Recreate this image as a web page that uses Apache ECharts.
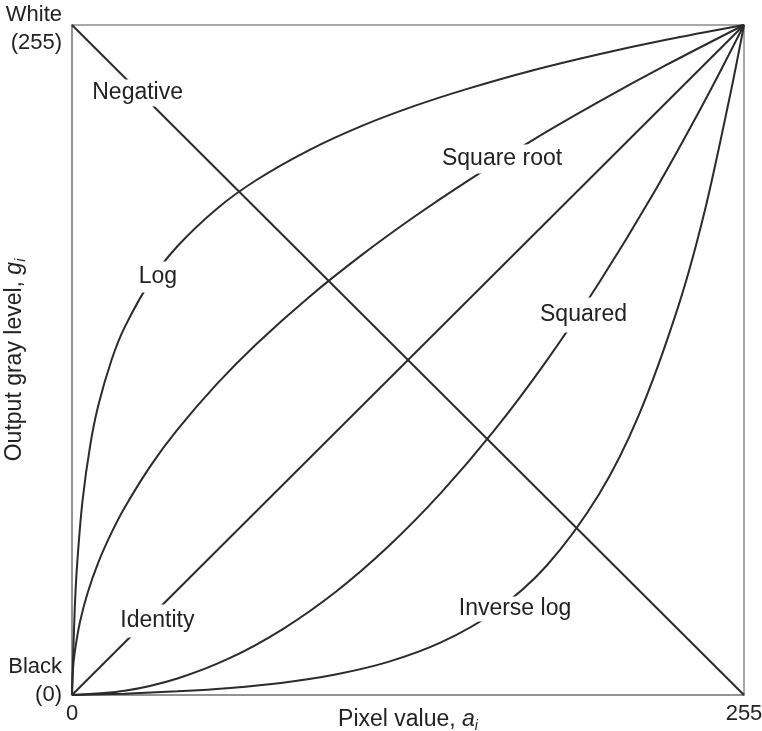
<!DOCTYPE html>
<html>
<head>
<meta charset="utf-8">
<title>Gray level transformations</title>
<script src="https://cdn.jsdelivr.net/npm/echarts@6/dist/echarts.min.js"></script>
<style>
  html, body { margin: 0; padding: 0; background: #fff; }
  #chart { width: 762px; height: 731px; }
</style>
</head>
<body>
<div id="chart"></div>
<script>
// curve points (pixel value -> output gray level)
const identityX = [0, 255];
const identityY = [0, 255];
const negativeX = [0, 255];
const negativeY = [255, 0];
const logX = [0, 1, 2, 4, 7, 10, 15, 20, 30, 40, 55, 70, 90, 110, 130, 150, 175, 200, 225, 255];
const logY = [0, 31.9, 50.5, 74.0, 95.6, 110.3, 127.5, 140.0, 157.9, 170.8, 185.1, 196.0, 207.4, 216.6, 224.2, 230.7, 237.8, 243.9, 249.3, 255];
const sqrtX = [0, 0.3, 1, 3, 6, 10, 15, 20, 30, 40, 55, 70, 90, 110, 130, 150, 175, 200, 225, 255];
const sqrtY = [0, 8.7, 16.0, 27.7, 39.1, 50.5, 61.8, 71.4, 87.5, 101.0, 118.4, 133.6, 151.5, 167.5, 182.1, 195.6, 211.3, 225.8, 239.5, 255];
const squaredX = [0, 20, 40, 60, 80, 100, 120, 140, 160, 180, 200, 220, 240, 255];
const squaredY = [0, 1.6, 6.3, 14.1, 25.1, 39.2, 56.5, 76.9, 100.4, 127.1, 156.9, 189.8, 225.9, 255];
const invLogX = [0, 20, 40, 60, 80, 100, 120, 140, 160, 180, 200, 215, 230, 240, 250, 255];
const invLogY = [0, 0.5, 1.4, 2.7, 4.7, 7.8, 12.6, 20.0, 31.4, 49.1, 76.4, 106.3, 147.7, 183.8, 229.6, 255];

// curve names and where their labels sit (data units)
const curveNames = ['Negative', 'Log', 'Square root', 'Squared', 'Inverse log', 'Identity'];
const labelX = [24.9, 32.6, 163.2, 194.1, 168.1, 32.4];
const labelY = [229.1, 159.1, 204.0, 144.6, 32.7, 28.2];

const xTicks = [0, 255];

const zip = (xs, ys) => xs.map((x, i) => [x, ys[i]]);

// white box around each label so the line looks cut
const labelPad = [2, 4, 3, 6, 1, 5];

const chart = echarts.init(document.getElementById('chart'));

const lineColor = '#2b2b2b';
const frameColor = '#8c8c8c';
const font = 'Liberation Sans, Arial, sans-serif';

const curve = (name, xs, ys) => ({
  name,
  type: 'line',
  data: zip(xs, ys),
  smooth: 0.3,
  symbol: 'none',
  silent: true,
  lineStyle: { color: lineColor, width: 2 },
  z: 2
});

// italic name with subscript
const nameRich = {
  it: { fontFamily: font, fontSize: 23, fontStyle: 'italic', color: '#222' },
  sub: { fontFamily: font, fontSize: 14, fontStyle: 'italic', color: '#222', padding: [13, 0, 0, 0] }
};

const option = {
  animation: false,
  backgroundColor: '#fff',
  grid: {
    left: 72,
    right: 18,
    top: 25,
    bottom: 36,
    outerBoundsMode: 'none',
    containLabel: false,
    show: true,
    borderColor: frameColor,
    borderWidth: 1.5
  },
  xAxis: {
    type: 'value',
    min: xTicks[0],
    max: xTicks[1],
    interval: 255,
    name: 'Pixel value, {it|a}{sub|i}',
    nameLocation: 'middle',
    nameGap: 11,
    nameMoveOverlap: false,
    nameTextStyle: {
      fontFamily: font,
      fontSize: 23,
      color: '#222',
      verticalAlign: 'top',
      rich: nameRich
    },
    axisLine: { show: true, lineStyle: { color: frameColor, width: 1.5 } },
    axisTick: { show: false },
    splitLine: { show: false },
    axisLabel: {
      margin: 8,
      fontFamily: font,
      fontSize: 22,
      color: '#222',
      showMinLabel: true,
      showMaxLabel: true
    }
  },
  yAxis: {
    type: 'value',
    min: 0,
    max: 255,
    interval: 255,
    name: 'Output gray level, {it|g}{sub|i}',
    nameLocation: 'middle',
    nameGap: 44,
    nameMoveOverlap: false,
    nameTextStyle: {
      fontFamily: font,
      fontSize: 23,
      color: '#222',
      rich: nameRich
    },
    axisLine: { show: true, lineStyle: { color: frameColor, width: 1.5 } },
    axisTick: { show: false },
    splitLine: { show: false },
    axisLabel: {
      margin: 10,
      fontFamily: font,
      fontSize: 22,
      lineHeight: 28,
      color: '#222',
      showMinLabel: true,
      showMaxLabel: true,
      formatter: function (v) {
        if (v === 255) return '{top|White\n(255)}';
        if (v === 0) return 'Black\n(0)\n ';
        return '';
      },
      rich: {
        top: { fontFamily: font, fontSize: 22, lineHeight: 28, color: '#222', padding: [8, 0, 0, 0] }
      }
    }
  },
  series: [
    curve('Identity', identityX, identityY),
    curve('Negative', negativeX, negativeY),
    curve('Log', logX, logY),
    curve('Square root', sqrtX, sqrtY),
    curve('Squared', squaredX, squaredY),
    curve('Inverse log', invLogX, invLogY),
    {
      name: 'labels',
      type: 'scatter',
      symbolSize: 0,
      silent: true,
      z: 10,
      itemStyle: { opacity: 1 },
      data: curveNames.map((n, i) => ({
        name: n,
        value: [labelX[i], labelY[i]],
        label: { padding: [labelPad[i], 4] }
      })),
      label: {
        show: true,
        position: 'inside',
        formatter: '{b}',
        fontFamily: font,
        fontSize: 23,
        color: '#222',
        opacity: 1,
        backgroundColor: '#fff'
      }
    }
  ]
};

chart.setOption(option);
</script>
</body>
</html>
